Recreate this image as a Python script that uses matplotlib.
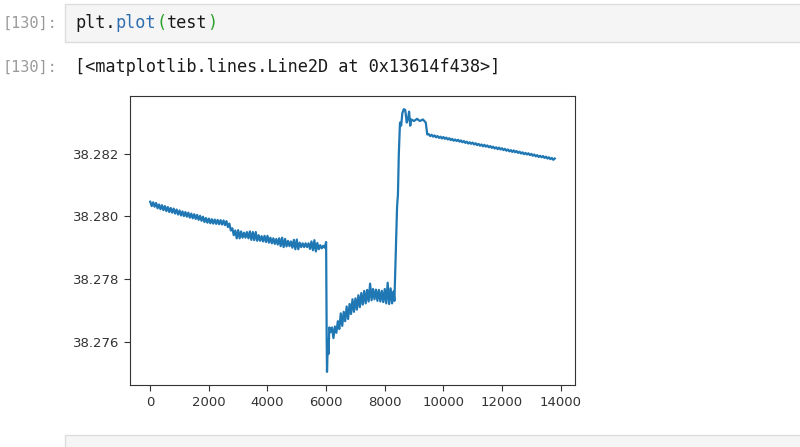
import matplotlib
matplotlib.use('Agg')
import matplotlib.pyplot as plt
from matplotlib.patches import Rectangle

##### Data #####
#slow drift before the first step (index, value)
drift_x = list(range(0, 6001, 50))
drift_y = [38.28047, 38.28033, 38.28045, 38.28031, 38.28043, 38.28026, 38.28038, 38.28023,
           38.28036, 38.28020, 38.28033, 38.28017, 38.28030, 38.28014, 38.28027, 38.28012,
           38.28025, 38.28009, 38.28022, 38.28006, 38.28019, 38.28003, 38.28016, 38.28001,
           38.28014, 38.27999, 38.28012, 38.27996, 38.28009, 38.27994, 38.28007, 38.27992,
           38.28005, 38.27989, 38.28002, 38.27986, 38.27999, 38.27982, 38.27995, 38.27980,
           38.27993, 38.27978, 38.27991, 38.27977, 38.27990, 38.27976, 38.27989, 38.27975,
           38.27988, 38.27974, 38.27987, 38.27972, 38.27985, 38.27966, 38.27977, 38.27955,
           38.27962, 38.27940, 38.27955, 38.27930, 38.27956, 38.27930, 38.27952, 38.27932,
           38.27948, 38.27932, 38.27950, 38.27930, 38.27952, 38.27925, 38.27950, 38.27924,
           38.27950, 38.27922, 38.27940, 38.27922, 38.27937, 38.27920, 38.27938, 38.27918,
           38.27938, 38.27916, 38.27932, 38.27914, 38.27930, 38.27912, 38.27928, 38.27910,
           38.27930, 38.27905, 38.27932, 38.27902, 38.27928, 38.27904, 38.27922, 38.27905,
           38.27920, 38.27900, 38.27925, 38.27895, 38.27926, 38.27895, 38.27916, 38.27902,
           38.27914, 38.27902, 38.27914, 38.27902, 38.27914, 38.27896, 38.27920, 38.27892,
           38.27924, 38.27888, 38.27915, 38.27895, 38.27908, 38.27898, 38.27906, 38.27900,
           38.27918]

#drop and recovery
recov_x = [6020, 6030, 6060, 6080, 6110, 6150, 6200, 6250, 6300, 6350, 6400, 6450, 6500,
           6550, 6600, 6650, 6700, 6750, 6800, 6850, 6900, 6950, 7000, 7050, 7100, 7150,
           7200, 7250, 7300, 7350, 7400, 7450, 7500, 7550, 7600, 7650, 7700, 7750, 7800,
           7850, 7900, 7950, 8000, 8050, 8100, 8150, 8200, 8250, 8300, 8330]
recov_y = [38.27600, 38.27503, 38.27600, 38.27560, 38.27645, 38.27630, 38.27645, 38.27611,
           38.27648, 38.27628, 38.27665, 38.27640, 38.27690, 38.27650, 38.27695, 38.27665,
           38.27712, 38.27672, 38.27720, 38.27688, 38.27735, 38.27695, 38.27738, 38.27702,
           38.27748, 38.27710, 38.27755, 38.27718, 38.27762, 38.27722, 38.27765, 38.27728,
           38.27785, 38.27732, 38.27768, 38.27735, 38.27766, 38.27730, 38.27765, 38.27728,
           38.27762, 38.27726, 38.27768, 38.27722, 38.27788, 38.27720, 38.27770, 38.27722,
           38.27760, 38.27730]

#jump up and plateau
jump_x = [8380, 8420, 8450, 8480, 8520, 8560, 8600, 8650, 8700, 8750, 8800, 8830, 8870,
          8900, 9000, 9100, 9200, 9300, 9400, 9450]
jump_y = [38.27900, 38.28030, 38.28070, 38.28200, 38.28300, 38.28290, 38.28330, 38.28343,
          38.28340, 38.28300, 38.28315, 38.28335, 38.28290, 38.28310, 38.28305, 38.28312,
          38.28305, 38.28310, 38.28300, 38.28262]

#slow decline to the end
tail_x = list(range(9500, 13801, 50))
tail_y = [38.28263, 38.28257, 38.28261, 38.28255, 38.28259, 38.28253, 38.28257, 38.28251,
          38.28255, 38.28249, 38.28254, 38.28248, 38.28252, 38.28246, 38.28250, 38.28244,
          38.28248, 38.28242, 38.28246, 38.28241, 38.28245, 38.28239, 38.28243, 38.28237,
          38.28241, 38.28235, 38.28239, 38.28233, 38.28237, 38.28232, 38.28236, 38.28230,
          38.28234, 38.28228, 38.28232, 38.28226, 38.28230, 38.28224, 38.28229, 38.28223,
          38.28227, 38.28221, 38.28225, 38.28219, 38.28223, 38.28217, 38.28221, 38.28215,
          38.28220, 38.28214, 38.28218, 38.28212, 38.28216, 38.28210, 38.28214, 38.28208,
          38.28212, 38.28206, 38.28211, 38.28205, 38.28209, 38.28203, 38.28207, 38.28201,
          38.28205, 38.28199, 38.28203, 38.28198, 38.28202, 38.28196, 38.28200, 38.28194,
          38.28198, 38.28192, 38.28196, 38.28190, 38.28194, 38.28189, 38.28193, 38.28187,
          38.28191, 38.28185, 38.28189, 38.28183, 38.28187, 38.28181, 38.28185]

test_x = drift_x + recov_x + jump_x + tail_x
test_y = drift_y + recov_y + jump_y + tail_y

code_parts = [('plt.', '#1a1a1a'), ('plot', '#2f6fb0'), ('(', '#2ca02c'),
              ('test', '#1a1a1a'), (')', '#2ca02c')]
prompt = '[130]:'
out_text = '[<matplotlib.lines.Line2D at 0x13614f438>]'
########################

W, H = 800, 447
fig = plt.figure(figsize=(W / 100, H / 100), dpi=100)

def fx(x):
    return x / W

def fy(y):
    return 1 - y / H

#notebook cells
fig.patches.append(Rectangle((fx(65), fy(42)), fx(740), 38 / H, transform=fig.transFigure,
                             facecolor='#f5f5f5', edgecolor='#dcdcdc', lw=1))
fig.patches.append(Rectangle((fx(65), fy(452)), fx(740), 17 / H, transform=fig.transFigure,
                             facecolor='#f5f5f5', edgecolor='#dcdcdc', lw=1))

mono = 'DejaVu Sans Mono'
fig.text(fx(57), fy(23), prompt, family=mono, fontsize=11, color='#9a9a9a', ha='right', va='center')
fig.text(fx(57), fy(67), prompt, family=mono, fontsize=11, color='#9a9a9a', ha='right', va='center')

cw = 0.602 * 12.2 * 100 / 72
pos = 75
for txt, col in code_parts:
    fig.text(fx(pos), fy(23), txt, family=mono, fontsize=12.2, color=col, va='center')
    pos += cw * len(txt)
fig.text(fx(75), fy(67), out_text, family=mono, fontsize=12.2, color='#1a1a1a', va='center')

#plot
ax = fig.add_axes([fx(130), fy(385), (575 - 130) / W, (385 - 96) / H])
ax.plot(test_x, test_y, color='#1f77b4', lw=1.6)
ax.ticklabel_format(useOffset=False, axis='y')
ax.set_yticks([38.276, 38.278, 38.280, 38.282])
ax.set_xticks(range(0, 14001, 2000))
ax.tick_params(labelsize=9.5, colors='#333333', length=4.5)
for s in ax.spines.values():
    s.set_color('#333333')

fig.savefig('out.png', dpi=100)
